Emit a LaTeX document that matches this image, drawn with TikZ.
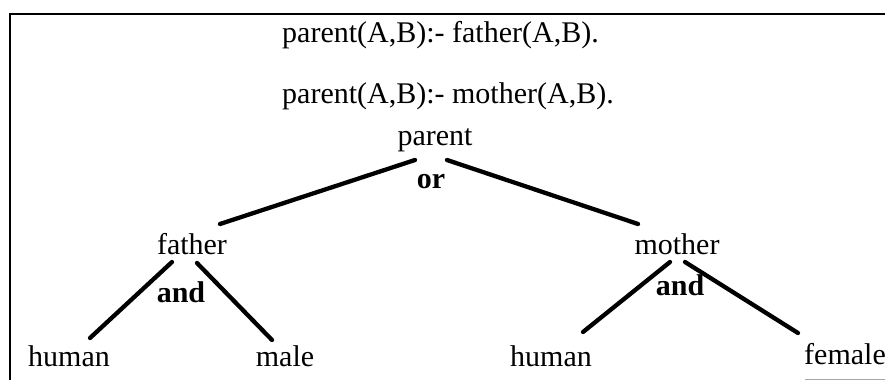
\documentclass[tikz,border=0pt]{standalone}
\usepackage{fontspec}
\setmainfont{Liberation Serif}
\usetikzlibrary{calc}
\begin{document}
\begin{tikzpicture}[x=1pt,y=-1pt,
  txt/.style={inner sep=0pt,font=\fontsize{30}{36}\selectfont},
  optxt/.style={txt,font=\fontsize{30}{36}\selectfont\bfseries},
  edge/.style={line width=4.3pt,line cap=round},
  frameline/.style={line width=2.6pt}]
\useasboundingbox (0,0) rectangle (885,380);

% frame (open at right and bottom)
\coordinate (tr) at (885,14);
\coordinate (tl) at (10,14);
\coordinate (bl) at (10,380);
\draw[frameline] (tr) -- (tl) -- (bl);
\coordinate (br1) at (805,379);
\coordinate (br2) at (885,379);
\draw[line width=1pt,black!35] (br1) -- (br2);

% clauses
\node[txt,anchor=base west] (c1) at (282,42) {parent(A,B):- father(A,B).};
\node[txt,anchor=base west] (c2) at (282,103) {parent(A,B):- mother(A,B).};

% tree
\node[txt,anchor=base] (parent) at (435,145) {parent};
\node[optxt,anchor=base] (or) at (431,188) {or};
\node[txt,anchor=base] (father) at (192,254) {father};
\node[optxt,anchor=base] (and1) at (181,302) {and};
\node[txt,anchor=base] (mother) at (677,254) {mother};
\node[optxt,anchor=base] (and2) at (680,295) {and};
\node[txt,anchor=base] (human1) at (69,366) {human};
\node[txt,anchor=base] (male) at (285,366) {male};
\node[txt,anchor=base] (human2) at (551,366) {human};
\node[txt,anchor=base] (female) at (845,364) {female};

\draw[edge] ($(parent.base)+(-20,15)$) -- ($(father.base)+(28,-30)$);
\draw[edge] ($(parent.base)+(12,15)$) -- ($(mother.base)+(-39,-30)$);
\draw[edge] ($(father.base)+(-20,8)$) -- ($(human1.base)+(21,-28)$);
\draw[edge] ($(father.base)+(5,9)$) -- ($(male.base)+(-13,-26)$);
\draw[edge] ($(mother.base)+(-7,8)$) -- ($(human2.base)+(32,-34)$);
\draw[edge] ($(mother.base)+(8,8)$) -- ($(female.base)+(-47,-31)$);
\end{tikzpicture}
\end{document}
